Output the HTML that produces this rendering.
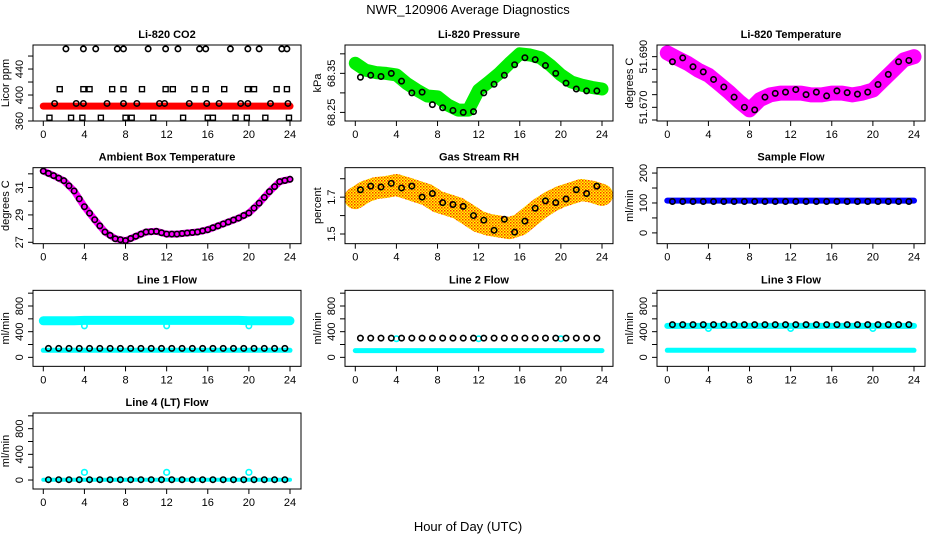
<!DOCTYPE html>
<html><head><meta charset="utf-8"><style>
html,body{margin:0;padding:0;background:#fff;}
svg{display:block;font-family:"Liberation Sans",Arial,sans-serif;}
</style></head><body>
<svg id="chart" width="936" height="540" viewBox="0 0 936 540">
<defs>
<pattern id="rhpat" width="3" height="3" patternUnits="userSpaceOnUse"><rect width="3" height="3" fill="#ffff00"/><rect x="0" y="0" width="1.5" height="1.5" fill="#ff3000"/><rect x="1.5" y="1.5" width="1.5" height="1.5" fill="#ff8000"/></pattern>
</defs>
<text x="468" y="14" text-anchor="middle" font-size="13">NWR_120906  Average Diagnostics</text>
<text x="468" y="531" text-anchor="middle" font-size="13">Hour of Day (UTC)</text>
</svg>
<script>
// ---------- data ----------
const hours = [0,1,2,3,4,5,6,7,8,9,10,11,12,13,14,15,16,17,18,19,20,21,22,23,24];
const halfHours = [0.5,1.5,2.5,3.5,4.5,5.5,6.5,7.5,8.5,9.5,10.5,11.5,12.5,13.5,14.5,15.5,16.5,17.5,18.5,19.5,20.5,21.5,22.5,23.5];
const xTicks = [0,4,8,12,16,20,24];

const co2Band = [383,383,383,383,383,383,383,383,383,383,383,383,383,383,383,383,383,383,383,383,383,383,383,383,383];
const co2TopH = [2.2,3.9,5.1,7.2,7.8,10.2,11.9,13.1,15.2,15.8,18.2,19.9,21.0,23.2,23.7];
const co2TopV = [471,471,471,471,471,471,471,471,471,471,471,471,471,471,471];
const co2SqH = [1.6,3.9,4.5,6.7,7.8,9.6,11.9,12.6,14.7,15.8,17.6,19.9,20.5,22.7,23.7];
const co2SqV = [409,409,409,409,409,409,409,409,409,409,409,409,409,409,409];
const co2MidH = [1.1,3.2,3.9,6.2,7.8,9.1,11.3,11.8,14.2,15.9,17.1,19.2,19.9,22.1,23.8];
const co2MidV = [387,387,387,387,387,387,387,387,387,387,387,387,387,387,387];
const co2LowH = [0.6,2.7,3.8,5.6,8.0,8.6,10.7,13.6,16.0,16.5,18.7,19.8,21.6,23.9];
const co2LowV = [365,365,365,365,365,365,365,365,365,365,365,365,365,365];

const pressBand = [68.376,68.358,68.352,68.350,68.346,68.324,68.307,68.292,68.290,68.269,68.256,68.256,68.307,68.328,68.350,68.376,68.400,68.397,68.390,68.370,68.346,68.328,68.320,68.314,68.310];
const pressBlack = [68.340,68.345,68.342,68.350,68.330,68.300,68.302,68.270,68.262,68.255,68.250,68.252,68.300,68.322,68.345,68.372,68.390,68.385,68.370,68.350,68.325,68.310,68.305,68.305];

const tempBand = [51.6915,51.6893,51.6873,51.6847,51.6827,51.6794,51.6760,51.6722,51.6690,51.6730,51.6749,51.6756,51.6756,51.6756,51.6749,51.6749,51.6756,51.6756,51.6749,51.6756,51.6768,51.6808,51.6847,51.6887,51.6900];
const tempBlack = [51.6880,51.6895,51.6860,51.6840,51.6810,51.6780,51.6740,51.6700,51.6690,51.6740,51.6755,51.6760,51.6770,51.6750,51.6760,51.6745,51.6765,51.6758,51.6752,51.6760,51.6790,51.6830,51.6880,51.6885];

const ambBand = [32.2,31.87,31.5,30.75,29.6,28.65,27.75,27.26,27.12,27.44,27.75,27.8,27.6,27.6,27.68,27.75,27.92,28.2,28.48,28.77,29.14,29.86,30.7,31.43,31.6];

const rhBand = [1.695,1.730,1.749,1.755,1.766,1.749,1.730,1.712,1.676,1.658,1.640,1.604,1.568,1.550,1.541,1.532,1.550,1.595,1.640,1.676,1.703,1.721,1.739,1.730,1.712];
const rhBlack = [1.740,1.760,1.755,1.775,1.750,1.760,1.700,1.720,1.670,1.660,1.650,1.600,1.575,1.520,1.580,1.510,1.570,1.640,1.680,1.670,1.690,1.740,1.720,1.760];

const sampleBand = [108,108,108,108,108,108,108,108,108,108,108,108,108,108,108,108,108,108,108,108,108,108,108,108,108];
const sampleBlack = [105,105,105,105,105,105,105,105,105,105,105,105,105,105,105,105,105,105,105,105,105,105,105,105];

const l1Upper = [570,570,570,570,575,575,575,575,575,575,575,575,575,575,575,575,575,575,575,575,570,570,570,570,570];
const l1Lower = [110,110,110,110,110,110,110,110,110,110,110,110,110,110,110,110,110,110,110,110,110,110,110,110,110];
const l1Black = [140,140,140,140,140,140,140,140,140,140,140,140,140,140,140,140,140,140,140,140,140,140,140,140];
const dipH = [4,12,20];
const l1Dip = [490,490,490];

const l2Lower = [105,105,105,105,105,105,105,105,105,105,105,105,105,105,105,105,105,105,105,105,105,105,105,105,105];
const l2Black = [300,300,300,300,300,300,300,300,300,300,300,300,300,300,300,300,300,300,300,300,300,300,300,300];
const l2Dip = [290,290,290];

const l3Upper = [490,490,490,490,490,490,490,490,490,490,490,490,490,490,490,490,490,490,490,490,490,490,490,490,490];
const l3Lower = [110,110,110,110,110,110,110,110,110,110,110,110,110,110,110,110,110,110,110,110,110,110,110,110,110];
const l3Black = [510,510,510,510,510,510,510,510,510,510,510,510,510,510,510,510,510,510,510,510,510,510,510,510];
const l3Dip = [450,450,450];

const l4Cyan = [5,5,5,5,5,5,5,5,5,5,5,5,5,5,5,5,5,5,5,5,5,5,5,5,5];
const l4Black = [5,5,5,5,5,5,5,5,5,5,5,5,5,5,5,5,5,5,5,5,5,5,5,5];
const l4Spike = [120,120,120];

const flowTicks = [0,200,400,600,800,1000];
const flowLabels = [0,400,800];

// ---------- drawing ----------
const svg = document.getElementById('chart');
const NS = 'http://www.w3.org/2000/svg';
function mk(tag, attrs, parent){
  const e = document.createElementNS(NS, tag);
  for (const k in attrs) e.setAttribute(k, attrs[k]);
  (parent||svg).appendChild(e);
  return e;
}
function interp(hs, vs, t){
  for (let i=0;i<hs.length-1;i++){ if (t>=hs[i] && t<=hs[i+1]) return vs[i]+(vs[i+1]-vs[i])*(t-hs[i])/(hs[i+1]-hs[i]); }
  return vs[vs.length-1];
}
function panel(c, r, title, ylab, ylim, yticks, ylabels, fmt){
  const left = 33 + 312*c, top = 45 + 122.67*r, w = 268, h = 76;
  const g = mk('g', {});
  
  
  const xs = t => left + 10.3 + t*(246.7/24);
  const ys = v => top + h - (v - ylim[0])/(ylim[1]-ylim[0])*h;
  const clip = mk('clipPath', {id:'clip'+c+r}, g);
  mk('rect', {x:left, y:top, width:w, height:h}, clip);
  const plot = mk('g', {'clip-path':'url(#clip'+c+r+')'}, g);
  
  
  const frame = mk('rect', {x:left, y:top, width:w, height:h, fill:'none', stroke:'#000', 'stroke-width':1}, g);
  
  
  const t = mk('text', {x:left+w/2, y:top-7, 'text-anchor':'middle', 'font-size':11, 'font-weight':'bold'}, g);
  t.textContent = title;
  
  
  xTicks.forEach(v => {
    mk('line', {x1:xs(v), x2:xs(v), y1:top+h, y2:top+h+5, stroke:'#000'}, g);
    const tl = mk('text', {x:xs(v), y:top+h+17, 'text-anchor':'middle', 'font-size':11}, g);
    tl.textContent = v;
    
    
  });
  yticks.forEach(v => { mk('line', {x1:left-5, x2:left, y1:ys(v), y2:ys(v), stroke:'#000'}, g); });
  ylabels.forEach(v => {
    const yy = ys(v);
    const tl = mk('text', {x:left-10, y:yy, 'text-anchor':'middle', 'font-size':11, transform:'rotate(-90 '+(left-10)+' '+yy+')'}, g);
    tl.textContent = fmt ? fmt(v) : v;
    
    
  });
  const yl = mk('text', {x:left-24, y:top+h/2, 'text-anchor':'middle', 'font-size':11, transform:'rotate(-90 '+(left-24)+' '+(top+h/2)+')'}, g);
  yl.textContent = ylab;
  
  
  return {xs, ys, plot};
}
function band(p, hs, vs, color, width, name){
  const pts = hs.map((t,i) => p.xs(t).toFixed(1)+','+p.ys(vs[i]).toFixed(1)).join(' ');
  const e = mk('polyline', {points:pts, fill:'none', stroke:color, 'stroke-width':width, 'stroke-linejoin':'round', 'stroke-linecap':'round'}, p.plot);
  
  
}
function circles(p, hs, vs, color, name, r){
  hs.forEach((t,i) => {
    const e = mk('circle', {cx:p.xs(t), cy:p.ys(vs[i]), r:r||2.7, fill:'none', stroke:color, 'stroke-width':1.6}, p.plot);
    
    
  });
}
function squares(p, hs, vs, color, name){
  hs.forEach((t,i) => {
    const e = mk('rect', {x:p.xs(t)-2.5, y:p.ys(vs[i])-2.5, width:5, height:5, fill:'none', stroke:color, 'stroke-width':1.4}, p.plot);
    
    
  });
}

// CO2
let p = panel(0,0,'Li-820 CO2','Licor ppm',[360,477],[360,380,400,420,440,460],[360,400,440]);
band(p, hours, co2Band, '#ff0000', 7, 'co2-band');
circles(p, co2TopH, co2TopV, '#000', 'co2-point');
squares(p, co2SqH, co2SqV, '#000', 'co2-point');
circles(p, co2MidH, co2MidV, '#000', 'co2-point');
squares(p, co2LowH, co2LowV, '#000', 'co2-point');

// Pressure
p = panel(1,0,'Li-820 Pressure','kPa',[68.228,68.4226],[68.25,68.30,68.35,68.40],[68.25,68.35],v=>v.toFixed(2));
band(p, hours, pressBand, '#00ee00', 13, 'pressure-band');
circles(p, halfHours, pressBlack, '#000', 'pressure-point');

// Temperature
p = panel(2,0,'Li-820 Temperature','degrees C',[51.6646,51.6946],[51.665,51.670,51.675,51.680,51.685,51.690],[51.670,51.690],v=>v.toFixed(3));
band(p, hours, tempBand, '#ff00ff', 15, 'temperature-band');
circles(p, halfHours, tempBlack, '#000', 'temperature-point');

// Ambient
p = panel(0,1,'Ambient Box Temperature','degrees C',[26.9,32.45],[27,28,29,30,31,32],[27,29,31]);
band(p, hours, ambBand, '#ff00ff', 7, 'ambient-band');
circles(p, hours, ambBand, '#000', 'ambient-point');
circles(p, halfHours, halfHours.map(t=>interp(hours, ambBand, t)), '#000', 'ambient-point');

// RH
p = panel(1,1,'Gas Stream RH','percent',[1.4476,1.86],[1.5,1.6,1.7,1.8],[1.5,1.7]);
band(p, hours, rhBand, 'url(#rhpat)', 22, 'rh-band');
circles(p, halfHours, rhBlack, '#000', 'rh-point');

// Sample flow
p = panel(2,1,'Sample Flow','ml/min',[-36,218],[0,50,100,150,200],[0,100,200]);
band(p, hours, sampleBand, '#0000ff', 6, 'sample-band');
circles(p, halfHours, sampleBlack, '#000', 'sample-point');

// Line 1
p = panel(0,2,'Line 1 Flow','ml/min',[-140,1044],flowTicks,flowLabels);
band(p, hours, l1Upper, '#00ffff', 9, 'line1-upper-band');
circles(p, dipH, l1Dip, '#00ffff', 'line1-dip');
band(p, hours, l1Lower, '#00ffff', 5, 'line1-lower-band');
circles(p, halfHours, l1Black, '#000', 'line1-point');

// Line 2
p = panel(1,2,'Line 2 Flow','ml/min',[-140,1044],flowTicks,flowLabels);
band(p, hours, l2Lower, '#00ffff', 5, 'line2-lower-band');
circles(p, dipH, l2Dip, '#00ffff', 'line2-dip');
circles(p, halfHours, l2Black, '#000', 'line2-point');

// Line 3
p = panel(2,2,'Line 3 Flow','ml/min',[-140,1044],flowTicks,flowLabels);
band(p, hours, l3Upper, '#00ffff', 6, 'line3-upper-band');
circles(p, dipH, l3Dip, '#00ffff', 'line3-dip');
band(p, hours, l3Lower, '#00ffff', 5, 'line3-lower-band');
circles(p, halfHours, l3Black, '#000', 'line3-point');

// Line 4
p = panel(0,3,'Line 4 (LT) Flow','ml/min',[-140,1044],flowTicks,flowLabels);
band(p, hours, l4Cyan, '#00ffff', 4, 'line4-band');
circles(p, dipH, l4Spike, '#00ffff', 'line4-spike', 2.8);
circles(p, halfHours, l4Black, '#000', 'line4-point');
</script>
</body></html>
